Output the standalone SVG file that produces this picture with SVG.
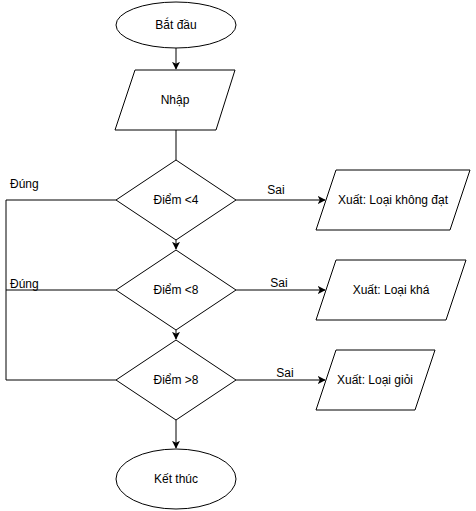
<svg xmlns="http://www.w3.org/2000/svg" width="476" height="511" viewBox="0 0 476 511">
  <style>
    .shape { fill: #ffffff; stroke: #000000; stroke-width: 1; }
    .edge { fill: none; stroke: #000000; stroke-width: 1; }
    text { font-family: "Liberation Sans", Arial, sans-serif; font-size: 12px; fill: #000000; }
    .c { text-anchor: middle; dominant-baseline: central; }
  </style>
  <defs>
    <marker id="arrow" viewBox="0 0 10 10" refX="9" refY="5" markerWidth="8" markerHeight="8" markerUnits="userSpaceOnUse" orient="auto">
      <path d="M0,0 L10,5 L0,10 L2.5,5 Z" fill="#000000"/>
    </marker>
  </defs>

  <rect width="476" height="511" fill="#ffffff"/>

  <!-- connectors -->
  <g id="edges">
    <line class="edge" x1="176" y1="48" x2="176" y2="69" marker-end="url(#arrow)"/>
    <line class="edge" x1="176" y1="130" x2="176" y2="160"/>
    <line class="edge" x1="176" y1="240" x2="176" y2="249" marker-end="url(#arrow)"/>
    <line class="edge" x1="176" y1="330" x2="176" y2="339" marker-end="url(#arrow)"/>
    <line class="edge" x1="176" y1="420" x2="176" y2="448" marker-end="url(#arrow)"/>

    <line class="edge" x1="236" y1="200" x2="325" y2="200" marker-end="url(#arrow)"/>
    <line class="edge" x1="236" y1="290" x2="325" y2="290" marker-end="url(#arrow)"/>
    <line class="edge" x1="236" y1="380" x2="325" y2="380" marker-end="url(#arrow)"/>

    <polyline class="edge" points="116,200 6,200 6,380 116,380"/>
    <line class="edge" x1="6" y1="290" x2="116" y2="290"/>

    <text x="10" y="188">Đúng</text>
    <text x="10" y="288">Đúng</text>
    <text x="276" y="194" text-anchor="middle">Sai</text>
    <text x="279" y="287" text-anchor="middle">Sai</text>
    <text x="285" y="377" text-anchor="middle">Sai</text>
  </g>

  <g id="start">
    <ellipse class="shape" cx="176" cy="25" rx="60" ry="23"/>
    <text class="c" x="176" y="25">Bắt đầu</text>
  </g>

  <g id="input">
    <polygon class="shape" points="135,70 235,70 216,130 115,130"/>
    <text class="c" x="175" y="100">Nhập</text>
  </g>

  <g id="check-lt4">
    <polygon class="shape" points="176,160 236,200 176,240 116,200"/>
    <text class="c" x="176" y="200">Điểm &lt;4</text>
  </g>

  <g id="check-lt8">
    <polygon class="shape" points="176,250 236,290 176,330 116,290"/>
    <text class="c" x="176" y="290">Điểm &lt;8</text>
  </g>

  <g id="check-gt8">
    <polygon class="shape" points="176,340 236,380 176,420 116,380"/>
    <text class="c" x="176" y="380">Điểm &gt;8</text>
  </g>

  <g id="out-fail">
    <polygon class="shape" points="336,170 470,170 450,230 316,230"/>
    <text class="c" x="393" y="200">Xuất: Loại không đạt</text>
  </g>

  <g id="out-good">
    <polygon class="shape" points="336,260 466,260 446,320 316,320"/>
    <text class="c" x="391" y="290">Xuất: Loại khá</text>
  </g>

  <g id="out-excellent">
    <polygon class="shape" points="336,350 435,350 415,410 316,410"/>
    <text class="c" x="375" y="380">Xuất: Loại giỏi</text>
  </g>

  <g id="end">
    <ellipse class="shape" cx="176" cy="479" rx="60" ry="30"/>
    <text class="c" x="176" y="479">Kết thúc</text>
  </g>
</svg>
